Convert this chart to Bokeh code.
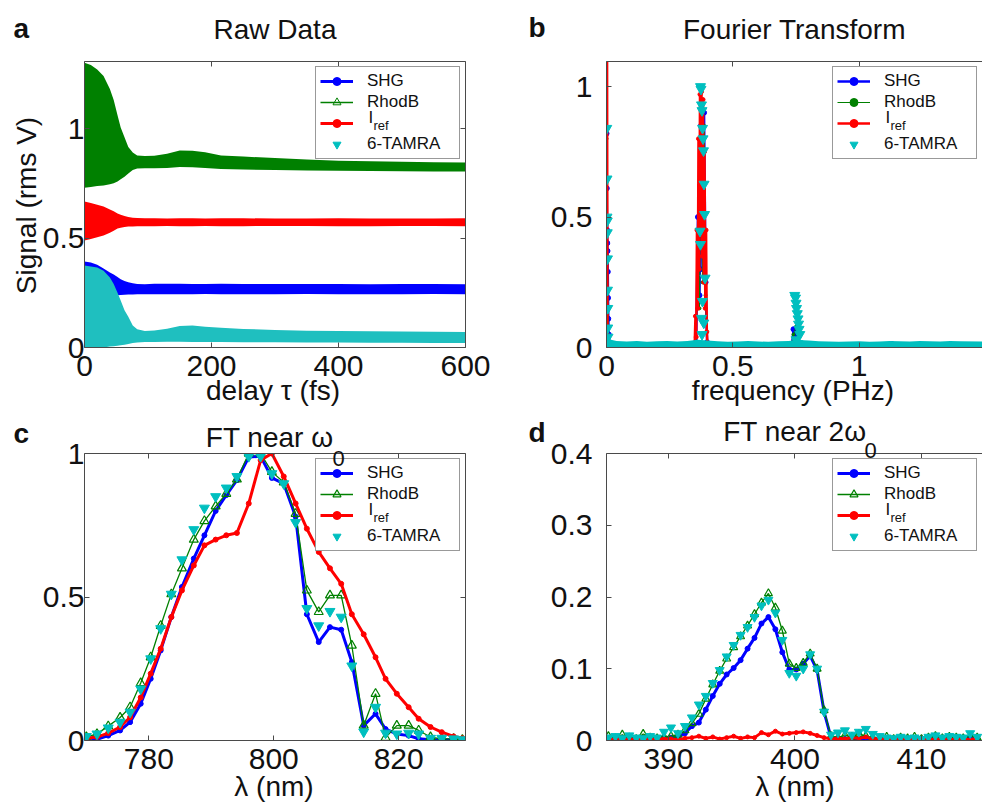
import math
from bokeh.plotting import figure
from bokeh.models import Range1d, LinearAxis, FixedTicker, Legend, LegendItem, GridBox
from bokeh.layouts import column
from bokeh.embed import file_html
from bokeh.resources import INLINE
from bokeh.core.properties import value

# ---------------- DATA ----------------
# (a) Raw data: envelope (upper / lower) of the fringe-resolved signal, rms V
delay_fs = [0, 10, 20, 30, 40, 46, 52, 57, 63, 69, 76, 83, 95, 110, 130, 150, 170, 190, 215, 250, 300, 350, 400, 450, 500, 550, 600]
rhodb_hi = [1.30, 1.29, 1.27, 1.24, 1.18, 1.13, 1.06, 1.005, 0.96, 0.915, 0.89, 0.877, 0.875, 0.876, 0.885, 0.90, 0.898, 0.892, 0.877, 0.872, 0.865, 0.858, 0.853, 0.85, 0.848, 0.846, 0.845]
rhodb_lo = [0.73, 0.733, 0.737, 0.74, 0.745, 0.75, 0.758, 0.768, 0.78, 0.795, 0.81, 0.817, 0.818, 0.818, 0.82, 0.824, 0.823, 0.82, 0.815, 0.813, 0.81, 0.808, 0.807, 0.806, 0.805, 0.804, 0.804]
iref_hi = [0.667, 0.66, 0.652, 0.644, 0.63, 0.622, 0.612, 0.606, 0.600, 0.596, 0.593, 0.591, 0.590, 0.590, 0.589, 0.590, 0.590, 0.589, 0.590, 0.590, 0.589, 0.589, 0.590, 0.589, 0.589, 0.589, 0.590]
iref_lo = [0.489, 0.495, 0.503, 0.511, 0.524, 0.533, 0.543, 0.547, 0.55, 0.552, 0.553, 0.554, 0.554, 0.554, 0.555, 0.554, 0.554, 0.555, 0.554, 0.554, 0.555, 0.555, 0.554, 0.554, 0.555, 0.555, 0.554]
shg_hi = [0.393, 0.388, 0.378, 0.361, 0.343, 0.333, 0.322, 0.312, 0.304, 0.298, 0.293, 0.290, 0.289, 0.291, 0.291, 0.291, 0.290, 0.290, 0.291, 0.290, 0.290, 0.290, 0.290, 0.289, 0.290, 0.290, 0.289]
shg_lo = [0.225, 0.228, 0.232, 0.236, 0.238, 0.238, 0.239, 0.240, 0.241, 0.242, 0.242, 0.243, 0.243, 0.243, 0.243, 0.243, 0.243, 0.244, 0.243, 0.243, 0.243, 0.244, 0.243, 0.243, 0.243, 0.244, 0.243]
tamra_hi = [0.374, 0.370, 0.365, 0.350, 0.320, 0.290, 0.250, 0.215, 0.170, 0.140, 0.100, 0.083, 0.075, 0.078, 0.086, 0.098, 0.100, 0.095, 0.090, 0.085, 0.080, 0.077, 0.075, 0.074, 0.073, 0.072, 0.071]
tamra_lo = [-0.01, -0.008, -0.005, 0.0, 0.004, 0.006, 0.008, 0.01, 0.013, 0.016, 0.02, 0.023, 0.025, 0.025, 0.026, 0.026, 0.025, 0.025, 0.025, 0.024, 0.024, 0.023, 0.023, 0.022, 0.022, 0.021, 0.021]

# (b) Fourier transform (normalised), frequency in PHz
ft_f_shg = [0.000, 0.001, 0.002, 0.003, 0.004, 0.005, 0.006, 0.007, 0.009, 0.012, 0.05, 0.10, 0.20, 0.30,
            0.355, 0.362, 0.368, 0.374, 0.380, 0.386, 0.392, 0.398, 0.42, 0.50, 0.60, 0.70,
            0.735, 0.740, 0.745, 0.750, 0.760, 0.78, 0.90, 1.00, 1.10, 1.125, 1.130, 1.135, 1.20, 1.30, 1.40, 1.49]
ft_shg = [0.82, 0.61, 0.45, 0.40, 0.37, 0.29, 0.19, 0.11, 0.05, 0.01, 0.004, 0.005, 0.004, 0.005,
          0.02, 0.5, 0.2, 0.85, 0.3, 0.9, 0.25, 0.02, 0.005, 0.004, 0.005, 0.004,
          0.01, 0.07, 0.03, 0.06, 0.01, 0.004, 0.005, 0.004, 0.005, 0.008, 0.013, 0.007, 0.004, 0.005, 0.004, 0.004]
ft_f_rhodb = [0.000, 0.002, 0.004, 0.006, 0.010, 0.10, 0.20, 0.30, 0.355, 0.362, 0.368, 0.374, 0.380, 0.386, 0.392, 0.398,
              0.45, 0.60, 0.73, 0.74, 0.75, 0.76, 0.77, 0.90, 1.10, 1.30, 1.49]
ft_rhodb = [0.80, 0.5, 0.35, 0.15, 0.01, 0.004, 0.005, 0.004, 0.02, 0.45, 0.15, 0.8, 0.25, 0.85, 0.2, 0.02,
            0.005, 0.004, 0.005, 0.05, 0.08, 0.01, 0.005, 0.004, 0.005, 0.004, 0.004]
ft_f_iref = [0.002, 0.002, 0.004, 0.008, 0.05, 0.15, 0.25, 0.33,
             0.349, 0.352, 0.355, 0.358, 0.361, 0.364, 0.367, 0.370, 0.373, 0.376, 0.379, 0.382, 0.385, 0.388, 0.391, 0.394, 0.397, 0.400,
             0.45, 0.55, 0.65, 0.75, 0.85, 0.95, 1.05, 1.15, 1.25, 1.35, 1.49]
ft_iref = [0.0, 1.3, 0.03, 0.004, 0.003, 0.004, 0.003, 0.004,
           0.01, 0.12, 0.04, 0.45, 0.15, 0.80, 0.30, 0.97, 0.45, 0.98, 0.35, 0.95, 0.25, 0.75, 0.15, 0.45, 0.06, 0.01,
           0.003, 0.004, 0.003, 0.004, 0.003, 0.004, 0.003, 0.004, 0.003, 0.004, 0.003]
ft_f_tamra = [0.001, 0.002, 0.002, 0.003, 0.003, 0.004, 0.004, 0.005, 0.005, 0.006,
              0.372, 0.374, 0.376, 0.378, 0.380, 0.382, 0.384, 0.386, 0.388, 0.370, 0.372, 0.390, 0.380, 0.376, 0.385, 0.378,
              0.745, 0.748, 0.750, 0.752, 0.755, 0.758, 0.760, 0.762, 0.765, 0.750, 0.757]
ft_tamra = [0.84, 0.646, 0.50, 0.485, 0.44, 0.34, 0.22, 0.15, 0.075, 0.04,
            1.0, 0.99, 0.93, 0.908, 0.84, 0.80, 0.754, 0.626, 0.51, 0.446, 0.395, 0.266, 0.177, 0.112, 0.094, 0.05,
            0.2, 0.19, 0.17, 0.15, 0.13, 0.11, 0.09, 0.07, 0.05, 0.03, 0.015]
ft_f_floor = [0.0, 0.04, 0.08, 0.12, 0.16, 0.20, 0.24, 0.28, 0.32, 0.36, 0.40, 0.44, 0.48, 0.52, 0.56, 0.60, 0.64, 0.68, 0.72,
              0.76, 0.80, 0.84, 0.88, 0.92, 0.96, 1.00, 1.04, 1.08, 1.12, 1.16, 1.20, 1.24, 1.28, 1.32, 1.36, 1.40, 1.49]
ft_tamra_floor = [0.034, 0.025, 0.023, 0.025, 0.022, 0.024, 0.025, 0.023, 0.025, 0.03, 0.027, 0.024, 0.022, 0.023, 0.025, 0.023,
                  0.022, 0.024, 0.025, 0.029, 0.027, 0.024, 0.023, 0.022, 0.023, 0.024, 0.022, 0.023, 0.025, 0.024, 0.023,
                  0.025, 0.024, 0.023, 0.025, 0.024, 0.023]

# (c) FT near omega_0, wavelength in nm
lam_c = [770.0, 771.7, 773.5, 775.4, 777.0, 778.7, 780.3, 781.9, 783.6, 785.3, 787.2, 788.9, 790.7, 792.4, 794.1, 796.0, 797.9,
         799.7, 801.6, 803.5, 805.3, 807.2, 809.0, 810.8, 812.5, 814.4, 816.3, 817.9, 819.7, 821.6, 823.2, 825.1, 826.9, 828.8, 830.2]
shg_c = [0.010, 0.004, 0.017, 0.035, 0.064, 0.128, 0.215, 0.314, 0.430, 0.535, 0.634, 0.715, 0.800, 0.855, 0.907, 0.988, 0.990,
         0.915, 0.895, 0.780, 0.440, 0.343, 0.395, 0.386, 0.273, 0.052, 0.093, 0.040, 0.023, 0.017, 0.006, 0.003, 0.003, 0.003, 0.003]
rhodb_c = [0.012, 0.023, 0.050, 0.080, 0.116, 0.200, 0.290, 0.400, 0.510, 0.600, 0.700, 0.765, 0.816, 0.860, 0.910, 1.000, 1.000,
           0.936, 0.900, 0.790, 0.523, 0.448, 0.506, 0.506, 0.331, 0.052, 0.163, 0.010, 0.052, 0.052, 0.035, 0.012, 0.006, 0.006, 0.003]
iref_c = [0.008, 0.012, 0.026, 0.047, 0.081, 0.150, 0.233, 0.320, 0.430, 0.523, 0.610, 0.680, 0.700, 0.715, 0.723, 0.826, 0.977,
          1.000, 0.920, 0.826, 0.738, 0.657, 0.600, 0.546, 0.440, 0.370, 0.290, 0.215, 0.163, 0.116, 0.076, 0.047, 0.029, 0.014, 0.008]
tamra_c = [0.014, 0.023, 0.044, 0.064, 0.099, 0.180, 0.285, 0.390, 0.510, 0.630, 0.735, 0.810, 0.850, 0.880, 0.920, 0.990, 0.990,
           0.930, 0.895, 0.760, 0.460, 0.400, 0.450, 0.430, 0.260, 0.030, 0.116, 0.026, 0.023, 0.026, 0.023, 0.008, 0.008, 0.006, 0.003]

# (d) FT near 2 omega_0, wavelength in nm
lam_d = [385.25, 385.8, 386.35, 386.9, 387.45, 388.0, 388.55, 389.1, 389.65, 390.2, 390.75, 391.3, 391.85, 392.4, 392.95, 393.5,
         394.05, 394.6, 395.15, 395.7, 396.25, 396.8, 397.35, 397.9, 398.45, 399.0, 399.55, 400.1, 400.65, 401.2, 401.75, 402.3,
         402.85, 403.4, 403.95, 404.5, 405.05, 405.6, 406.15, 406.7, 407.25, 407.8, 408.35, 408.9, 409.45, 410.0, 410.55, 411.1,
         411.65, 412.2, 412.75, 413.3, 413.85, 414.4]
shg_d = [0.003, 0.002, 0.004, 0.003, 0.002, 0.004, 0.003, 0.002, 0.003, 0.004, 0.005, 0.010, 0.020, 0.025, 0.043, 0.062,
         0.079, 0.092, 0.101, 0.112, 0.128, 0.143, 0.163, 0.172, 0.155, 0.123, 0.099, 0.099, 0.107, 0.118, 0.098, 0.040,
         0.004, 0.003, 0.002, 0.003, 0.002, 0.003, 0.002, 0.003, 0.002, 0.003, 0.002, 0.003, 0.002, 0.003, 0.002, 0.003,
         0.002, 0.003, 0.002, 0.003, 0.002, 0.003]
rhodb_d = [0.006, 0.003, 0.008, 0.004, 0.002, 0.009, 0.004, 0.003, 0.005, 0.006, 0.008, 0.014, 0.024, 0.037, 0.058, 0.078,
           0.097, 0.114, 0.130, 0.145, 0.160, 0.176, 0.192, 0.205, 0.185, 0.153, 0.107, 0.101, 0.108, 0.121, 0.100, 0.042,
           0.006, 0.004, 0.007, 0.005, 0.009, 0.006, 0.004, 0.003, 0.005, 0.002, 0.004, 0.003, 0.005, 0.002, 0.004, 0.006,
           0.003, 0.005, 0.004, 0.003, 0.006, 0.004]
iref_d = [0.001, 0.002, 0.001, 0.002, 0.001, 0.002, 0.001, 0.002, 0.002, 0.002, 0.001, 0.003, 0.004, 0.006, 0.003, 0.005,
          0.002, 0.004, 0.006, 0.003, 0.005, 0.004, 0.011, 0.008, 0.013, 0.009, 0.010, 0.011, 0.012, 0.010, 0.007, 0.004,
          0.002, 0.003, 0.002, 0.004, 0.003, 0.005, 0.002, 0.003, 0.001, 0.002, 0.001, 0.002, 0.001, 0.002, 0.001, 0.002,
          0.001, 0.002, 0.001, 0.002, 0.001, 0.003]
tamra_d = [0.004, 0.006, 0.003, 0.007, 0.004, 0.003, 0.006, 0.004, 0.012, 0.018, 0.010, 0.020, 0.032, 0.050, 0.062, 0.080,
           0.098, 0.117, 0.133, 0.147, 0.158, 0.172, 0.188, 0.196, 0.178, 0.140, 0.094, 0.090, 0.100, 0.120, 0.100, 0.040,
           0.008, 0.011, 0.014, 0.008, 0.012, 0.016, 0.009, 0.006, 0.004, 0.003, 0.005, 0.003, 0.004, 0.002, 0.005, 0.007,
           0.004, 0.006, 0.005, 0.004, 0.010, 0.005]

# tick values / labels
ticks_a_x = [0, 200, 400, 600]; labels_a_x = ["0", "200", "400", "600"]
ticks_a_y = [0, 0.5, 1]; labels_a_y = ["0", "0.5", "1"]
ticks_b_x = [0, 0.5, 1]; labels_b_x = ["0", "0.5", "1"]
ticks_b_y = [0, 0.5, 1]; labels_b_y = ["0", "0.5", "1"]
ticks_c_x = [780, 800, 820]; labels_c_x = ["780", "800", "820"]
ticks_c_y = [0, 0.5, 1]; labels_c_y = ["0", "0.5", "1"]
ticks_d_x = [390, 400, 410]; labels_d_x = ["390", "400", "410"]
ticks_d_y = [0, 0.1, 0.2, 0.3, 0.4]; labels_d_y = ["0", "0.1", "0.2", "0.3", "0.4"]

# text (titles, panel letters, axis titles)
panel_letters = ["a", "b", "c", "d"]
titles = ["Raw Data", "Fourier Transform", "delay \u03c4 (fs)", "frequency (PHz)", "\u03bb (nm)", "\u03bb (nm)"]
omega_titles = ["FT near \u03c9", "FT near 2\u03c9"]
omega_subs = ["0", "0"]
y_title = ["Signal (rms V)"]

# ---------------- STYLE / LAYOUT ----------------
FONT = "Liberation Sans"
C_SHG = "#0000FF"
C_RHB = "#008000"
C_REF = "#FF0000"
C_TAM = "#00BFBF"
C_TAM_BAND = "#1FBFBF"
AXC = "#4a4a4a"
TXT = "#111111"

PAGE_W, PAGE_H = 982, 802
COL_X = [0, 491]
ROW_Y = [0, 412]
COL_W = [491, 491]
ROW_H = [412, 390]

# frames in page pixels: left, width, top, height, x range, y range
FR_A = dict(fl=84, fw=381, ft=61, fh=286, xr=(0, 600), yr=(0, 1.306))
FR_B = dict(fl=606, fw=376, ft=61, fh=286, xr=(0, 376 / 252.7), yr=(0, 1.096))
FR_C = dict(fl=84, fw=381, ft=453, fh=287, xr=(769.7, 830.7), yr=(0, 1))
FR_D = dict(fl=606, fw=376, ft=453, fh=287, xr=(385.1, 385.1 + 376 / 12.65), yr=(0, 0.4))

LEG_W, LEG_MARGIN, LEG_PAD, LEG_ROW, LEG_GAP = 143, 5, 4, 20, 1
BASE_SHIFT = 0.33   # text glyphs sit this many em below the requested baseline; compensate


def style_axis(ax, ticks, labels, standoff, show=True):
    ax.ticker = FixedTicker(ticks=ticks)
    ax.axis_line_color = AXC
    ax.axis_line_width = 1
    ax.major_tick_line_color = AXC
    ax.major_tick_in = 5
    ax.major_tick_out = 0
    ax.minor_tick_line_color = None
    ax.major_label_text_font = FONT
    ax.major_label_text_color = TXT
    if show:
        ax.major_label_text_font_size = "30px"
        ax.major_label_standoff = standoff
        ax.major_label_overrides = {t: l for t, l in zip(ticks, labels)}
    else:
        ax.major_label_text_font_size = "1px"
        ax.major_label_standoff = 0
        ax.major_label_overrides = {t: "" for t in ticks}


def make_fig(fr, col, rw, xt, xl, yt, yl, ystand, right_axis):
    bl = fr["fl"] - COL_X[col]
    bt = fr["ft"] - ROW_Y[rw]
    br = COL_W[col] - bl - fr["fw"]
    bb = ROW_H[rw] - bt - fr["fh"]
    p = figure(frame_width=fr["fw"], frame_height=fr["fh"], min_border_left=bl, min_border_right=br,
               min_border_top=bt, min_border_bottom=bb,
               x_range=Range1d(*fr["xr"]), y_range=Range1d(*fr["yr"]),
               output_backend="svg", toolbar_location=None, tools="")
    p.outline_line_color = None
    p.grid.visible = False
    p.background_fill_color = "white"
    p.border_fill_color = "white"
    style_axis(p.xaxis[0], xt, xl, 8)
    style_axis(p.yaxis[0], yt, yl, ystand)
    top = LinearAxis()
    style_axis(top, xt, xl, 0, show=False)
    p.add_layout(top, "above")
    if right_axis:
        rgt = LinearAxis()
        style_axis(rgt, yt, yl, 0, show=False)
        p.add_layout(rgt, "right")
    return p


def add_legend(p, rs):
    items = [LegendItem(label="SHG", renderers=rs[0]), LegendItem(label="RhodB", renderers=rs[1]),
             LegendItem(label=" ", renderers=rs[2]), LegendItem(label="6-TAMRA", renderers=rs[3])]
    leg = Legend(items=items, location="top_right", margin=LEG_MARGIN, padding=LEG_PAD, spacing=LEG_GAP,
                 glyph_width=33, glyph_height=LEG_ROW, label_height=LEG_ROW, label_width=88, label_standoff=14,
                 label_text_font=FONT, label_text_font_size="17px", label_text_color=TXT,
                 border_line_color="#333333", border_line_width=1,
                 background_fill_color="white", background_fill_alpha=1.0)
    p.add_layout(leg)


# ---------------- PANEL A ----------------
pa = make_fig(FR_A, 0, 0, ticks_a_x, labels_a_x, ticks_a_y, labels_a_y, 0, True)
# invisible proxies that give the legend its line / marker samples
la = [[pa.line(delay_fs, shg_hi, line_color=C_SHG, line_width=3, visible=False),
       pa.scatter(delay_fs, shg_hi, marker="circle", size=5, color=C_SHG, visible=False)],
      [pa.line(delay_fs, rhodb_hi, line_color=C_RHB, line_width=1.3, visible=False),
       pa.scatter(delay_fs, rhodb_hi, marker="triangle", size=9, line_color=C_RHB, fill_color=None, visible=False)],
      [pa.line(delay_fs, iref_hi, line_color=C_REF, line_width=3, visible=False),
       pa.scatter(delay_fs, iref_hi, marker="circle", size=5, color=C_REF, visible=False)],
      [pa.scatter(delay_fs, tamra_hi, marker="inverted_triangle", size=10, color=C_TAM, visible=False)]]
pa.varea(x=delay_fs, y1=rhodb_lo, y2=rhodb_hi, fill_color=C_RHB)
pa.varea(x=delay_fs, y1=iref_lo, y2=iref_hi, fill_color=C_REF)
pa.varea(x=delay_fs, y1=shg_lo, y2=shg_hi, fill_color=C_SHG)
pa.varea(x=delay_fs, y1=tamra_lo, y2=tamra_hi, fill_color=C_TAM_BAND)
add_legend(pa, la)

# ---------------- PANEL B ----------------
pb = make_fig(FR_B, 1, 0, ticks_b_x, labels_b_x, ticks_b_y, labels_b_y, 14, False)
b1 = pb.line(ft_f_shg, ft_shg, line_color=C_SHG, line_width=2.5)
b1s = pb.scatter(ft_f_shg, ft_shg, marker="circle", size=5, color=C_SHG)
b2 = pb.line(ft_f_rhodb, ft_rhodb, line_color=C_RHB, line_width=1)
b2s = pb.scatter(ft_f_rhodb, ft_rhodb, marker="circle", size=3, color=C_RHB)
b3 = pb.line(ft_f_iref, ft_iref, line_color=C_REF, line_width=2.5)
b3s = pb.scatter(ft_f_iref, ft_iref, marker="circle", size=4, color=C_REF)
pb.varea(x=ft_f_floor, y1=[0] * len(ft_f_floor), y2=ft_tamra_floor, fill_color=C_TAM)
b4 = pb.scatter(ft_f_tamra, ft_tamra, marker="inverted_triangle", size=10, color=C_TAM)
add_legend(pb, [[b1, b1s], [b2, b2s], [b3, b3s], [b4]])

# ---------------- PANEL C ----------------
pc = make_fig(FR_C, 0, 1, ticks_c_x, labels_c_x, ticks_c_y, labels_c_y, 0, True)
c1 = pc.line(lam_c, shg_c, line_color=C_SHG, line_width=3)
c1s = pc.scatter(lam_c, shg_c, marker="circle", size=5, color=C_SHG)
c2 = pc.line(lam_c, rhodb_c, line_color=C_RHB, line_width=1.3)
c2s = pc.scatter(lam_c, rhodb_c, marker="triangle", size=9, line_color=C_RHB, fill_color=None, line_width=1.2)
c3 = pc.line(lam_c, iref_c, line_color=C_REF, line_width=3)
c3s = pc.scatter(lam_c, iref_c, marker="circle", size=5, color=C_REF)
c4 = pc.scatter(lam_c, tamra_c, marker="inverted_triangle", size=10, color=C_TAM)
add_legend(pc, [[c1, c1s], [c2, c2s], [c3, c3s], [c4]])

# ---------------- PANEL D ----------------
pd_ = make_fig(FR_D, 1, 1, ticks_d_x, labels_d_x, ticks_d_y, labels_d_y, 14, False)
d1 = pd_.line(lam_d, shg_d, line_color=C_SHG, line_width=3)
d1s = pd_.scatter(lam_d, shg_d, marker="circle", size=5, color=C_SHG)
d2 = pd_.line(lam_d, rhodb_d, line_color=C_RHB, line_width=1.3)
d2s = pd_.scatter(lam_d, rhodb_d, marker="triangle", size=8, line_color=C_RHB, fill_color=None, line_width=1.2)
d3 = pd_.line(lam_d, iref_d, line_color=C_REF, line_width=3)
d3s = pd_.scatter(lam_d, iref_d, marker="circle", size=4, color=C_REF)
d4 = pd_.scatter(lam_d, tamra_d, marker="inverted_triangle", size=9, color=C_TAM)
add_legend(pd_, [[d1, d1s], [d2, d2s], [d3, d3s], [d4]])

# ---------------- TEXT OVERLAY (page-pixel coordinates) ----------------
ov = figure(title=None, frame_width=PAGE_W, frame_height=PAGE_H, min_border=0,
            x_axis_location=None, y_axis_location=None,
            x_range=Range1d(0, PAGE_W), y_range=Range1d(PAGE_H, 0),
            output_backend="svg", toolbar_location=None, tools="")
ov.grid.visible = False
ov.outline_line_color = None
ov.background_fill_alpha = 0
ov.border_fill_alpha = 0


def put_text(xs, ys, texts, size, **kw):
    ys2 = [y - BASE_SHIFT * size for y in ys]
    ov.text(xs, ys2, text=texts, text_font=value(FONT), text_font_size=f"{size}px",
            text_baseline="alphabetic", text_color=TXT, **kw)


put_text([13, 528, 13, 528], [37, 36, 442, 441], panel_letters, 28, text_font_style="bold", text_align="left")
put_text([274.5, 794, 272.5, 792.5, 273.5, 794.5], [38, 38, 399, 399, 795, 795], titles, 28, text_align="center")
put_text([333, 866], [446, 440], omega_titles, 28, text_align="right")
put_text([332, 864], [465, 457], omega_subs, 22, text_align="left")
# rotated y title: the glyph offset acts along +x after the 90 degree rotation
ov.text([35 - BASE_SHIFT * 28], [205], text=y_title, angle=math.pi / 2, text_font=value(FONT),
        text_font_size="28px", text_align="center", text_baseline="alphabetic", text_color=TXT)

# I_ref legend label (main letter + subscript), placed on the 3rd legend row of each panel
frames = (FR_A, FR_B, FR_C, FR_D)
leg_left = [fr["fl"] + fr["fw"] - LEG_MARGIN - LEG_W for fr in frames]
leg_row3 = [fr["ft"] + LEG_MARGIN + LEG_PAD + 2 * (LEG_ROW + LEG_GAP) + LEG_ROW / 2 for fr in frames]
put_text([l + 51 for l in leg_left], [r + 1 for r in leg_row3], ["I"] * 4, 17, text_align="left")
put_text([l + 56 for l in leg_left], [r + 7 for r in leg_row3], ["ref"] * 4, 13, text_align="left")

grid = GridBox(children=[(pa, 0, 0), (pb, 0, 1), (pc, 1, 0), (pd_, 1, 1), (column(ov), 0, 0, 2, 2)])
open("out.html", "w").write(file_html(grid, INLINE, title="FT spectra"))
